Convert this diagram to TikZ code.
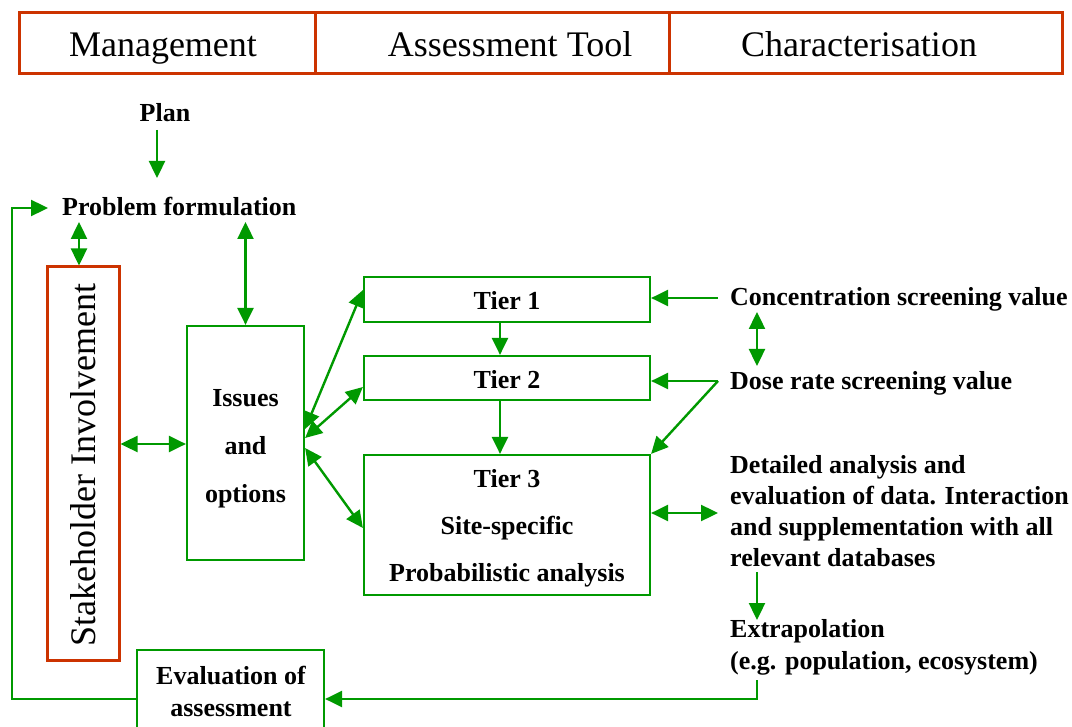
\documentclass[tikz,border=0pt]{standalone}
\usepackage{fontspec}
\setmainfont{Liberation Serif}
\usetikzlibrary{arrows.meta,calc}
\definecolor{dgreen}{RGB}{0,153,0}
\definecolor{hred}{RGB}{204,51,0}
\begin{document}
\begin{tikzpicture}[x=1pt,y=-1pt,
  gbox/.style={draw=dgreen,line width=2.2pt,inner sep=0pt},
  rbox/.style={draw=hred,line width=3pt,inner sep=0pt},
  lab/.style={inner sep=0pt,font=\fontsize{26}{31}\selectfont\bfseries},
  hlab/.style={inner sep=0pt,font=\fontsize{36}{40}\selectfont},
  arr/.style={draw=dgreen,line width=2.4pt,-{Triangle[length=17pt,width=16pt]}},
  darr/.style={draw=dgreen,line width=2.4pt,{Triangle[length=17pt,width=16pt]}-{Triangle[length=17pt,width=16pt]}},
  ln/.style={draw=dgreen,line width=2.4pt}]
\useasboundingbox (0,0) rectangle (1072,727);
\clip (0,0) rectangle (1072,727);
% header
\node[rbox,minimum width=1043pt,minimum height=61pt] (hdr) at (540.5,43.5) {};
\draw[hred,line width=3pt] (315,13) -- (315,74) (669,13) -- (669,74);
\node[hlab,anchor=base] (hm) at (163,57) {Management};
\node[hlab,anchor=base] (ha) at (510,57) {Assessment Tool};
\node[hlab,anchor=base] (hc) at (859,57) {Characterisation};
% boxes
\node[rbox,minimum width=72pt,minimum height=393pt] (stake) at (83,463.5) {};
\node[inner sep=0pt,rotate=90,font=\fontsize{36}{40}\selectfont] (staket) at (83,465) {Stakeholder Involvement};
\node[gbox,minimum width=117pt,minimum height=234pt] (issues) at (245.5,443) {};
\node[gbox,minimum width=286pt,minimum height=45pt] (t1) at (507,299.5) {};
\node[gbox,minimum width=286pt,minimum height=44pt] (t2) at (507,378) {};
\node[gbox,minimum width=286pt,minimum height=140pt] (t3) at (507,525) {};
\node[gbox,minimum width=187pt,minimum height=110pt] (eval) at (230.5,705) {};
% texts
\node[lab,anchor=base] (plan) at (165,121.7) {Plan};
\node[lab,anchor=base west] (pf) at (62,216) {Problem formulation};
\node[lab,anchor=north,align=center,font=\fontsize{26}{48}\selectfont\bfseries] (issuest) at (245.5,389) {Issues\\and\\options};
\node[lab,anchor=base] (t1t) at (507,310) {Tier 1};
\node[lab,anchor=base] (t2t) at (507,389) {Tier 2};
\node[lab,anchor=north,align=center,font=\fontsize{26}{47}\selectfont\bfseries] (t3t) at (507,469) {Tier 3\\Site-specific\\Probabilistic analysis};
\node[lab,anchor=north,align=center,font=\fontsize{26}{32}\selectfont\bfseries] (evalt) at (231,666) {Evaluation of\\assessment};
\node[lab,anchor=base west] (conc) at (730,306) {Concentration screening value};
\node[lab,anchor=base west] (dose) at (730,390) {Dose rate screening value};
\node[lab,anchor=north west,align=left] (det) at (730,455) {Detailed analysis and\\evaluation of data. Interaction\\and supplementation with all\\relevant databases};
\node[lab,anchor=north west,align=left,font=\fontsize{26}{32}\selectfont\bfseries] (extra) at (730,619) {Extrapolation\\(e.g. population, ecosystem)};
% coordinates
\coordinate (planS) at (157,130);
\coordinate (pfN) at (157,178);
\coordinate (loopB) at (12,699);
\coordinate (loopT) at (12,208);
\coordinate (pfW) at (48,208);
\coordinate (pfS1) at (79,222);
\coordinate (pfS2) at (245.5,222);
\coordinate (concW) at (718,298);
\coordinate (concS) at (757,312);
\coordinate (doseN) at (757,366);
\coordinate (doseW) at (718,381);
\coordinate (detW) at (718,513);
\coordinate (detS) at (757,572);
\coordinate (extN) at (757,620);
\coordinate (extS) at (757,680);
\coordinate (extC) at (757,699);
% connectors
\draw[arr] (planS) -- (pfN);
\draw[arr] (eval.west |- loopB) -- (loopB) -- (loopT) -- (pfW);
\draw[darr] (pfS1) -- (pfS1 |- stake.north);
\draw[darr] (pfS2) -- (issues.north);
\draw[darr] (stake.east |- 0,444) -- (issues.west |- 0,444);
\draw[darr] (issues.east |- 0,429) -- (t1.west |- 0,290);
\draw[darr] (issues.east |- 0,438) -- (t2.west |- 0,387);
\draw[darr] (issues.east |- 0,448) -- (t3.west |- 0,528);
\draw[arr] (t1.south -| 500,0) -- (t2.north -| 500,0);
\draw[arr] (t2.south -| 500,0) -- (t3.north -| 500,0);
\draw[arr] (concW) -- (t1.east |- concW);
\draw[darr] (concS) -- (doseN);
\draw[arr] (doseW) -- (t2.east |- doseW);
\draw[arr] (doseW) -- (t3.north east);
\draw[darr] (t3.east |- detW) -- (detW);
\draw[arr] (detS) -- (extN);
\draw[arr] (extS) -- (extC) -- (eval.east |- extC);
\end{tikzpicture}
\end{document}
